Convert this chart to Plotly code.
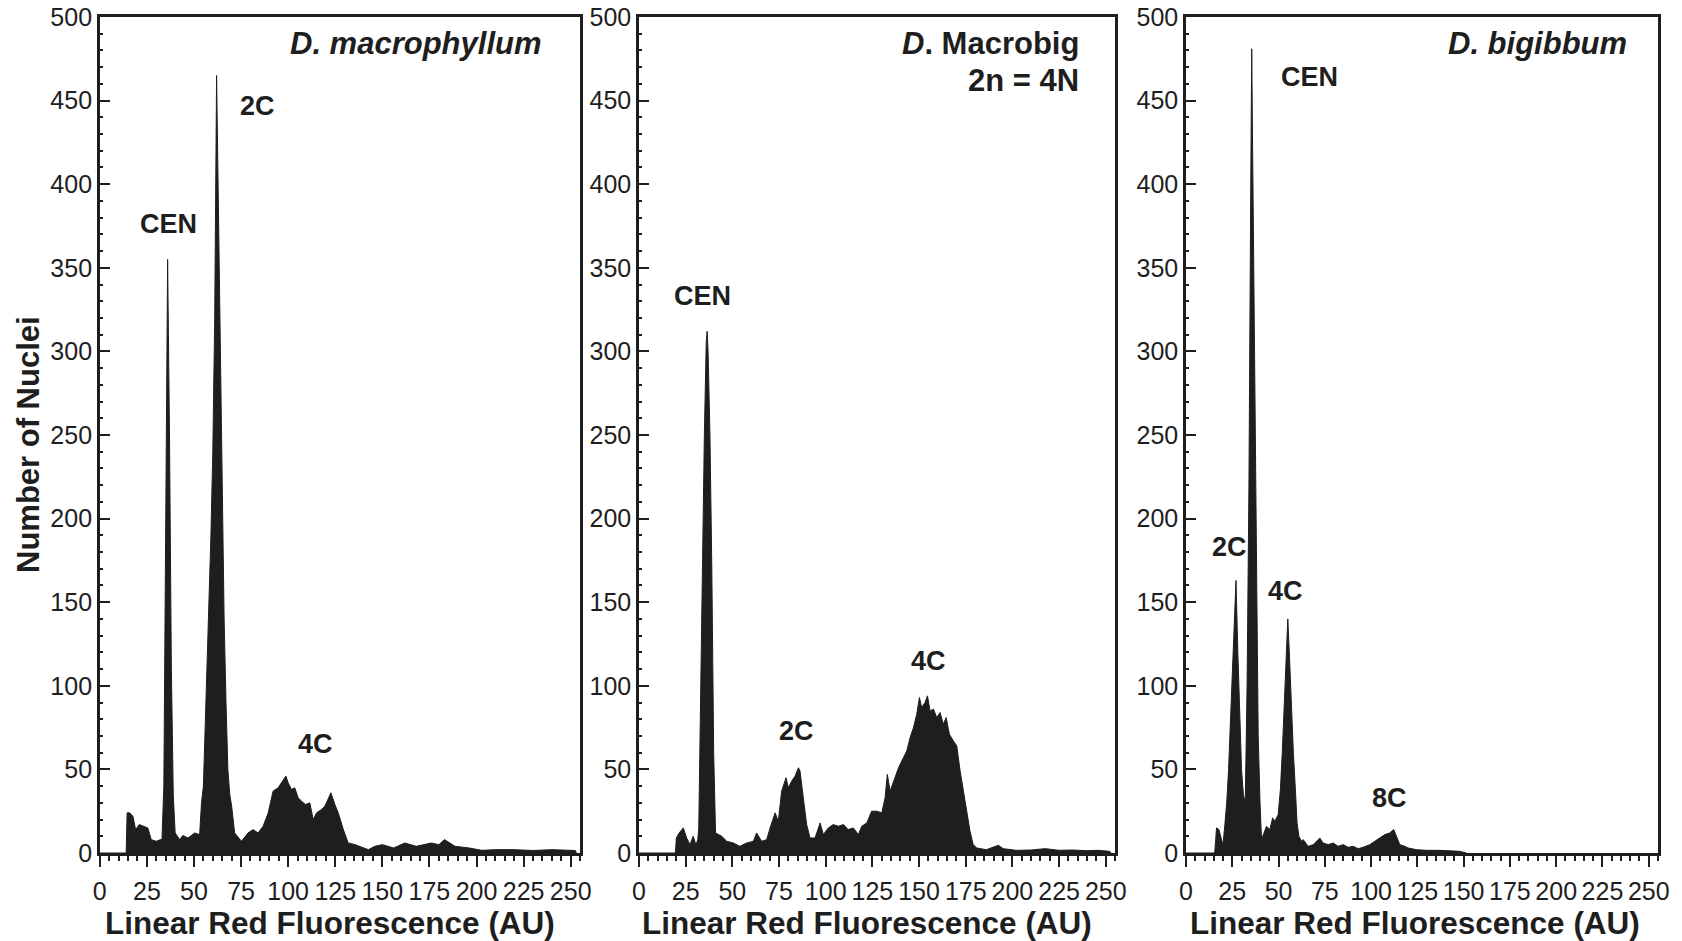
import plotly.graph_objects as go

# ---------------- data ----------------
# Panel 1: D. macrophyllum
mac_x = [0, 14, 14.5, 15.8, 17.6, 19, 21, 22.9, 25.5, 27.3, 30, 32.3, 33, 34, 35, 36, 37, 38, 39, 40,
         42.4, 44.1, 46.8, 50.4, 53, 54, 55, 57, 59, 60, 61, 62, 63, 64, 65, 66, 67, 68, 69, 70,
         71.6, 75.2, 78.7, 81.4, 84, 86.7, 89.4, 92, 94.7, 97.3, 98.8, 100, 101.8, 103.5, 105.3, 107.1,
         109.2, 111.5, 113.3, 115.1, 117.7, 119.5, 122.7, 124.8, 126.6, 129.3, 131.9, 135.5, 140, 142.6,
         146, 150, 156, 162, 168, 176, 180, 183, 188.6, 196, 202.8, 210, 220, 230, 240, 252.5, 253]
mac_y = [0, 0, 24, 24, 22, 14, 17, 16, 15, 8, 7, 8, 8, 40, 220, 355, 250, 110, 35, 12,
         8, 10.5, 9, 12, 11, 30, 40, 110, 190, 240, 320, 465, 380, 280, 200, 140, 90, 50, 35, 28,
         12, 7, 12, 14, 12, 16, 24, 37, 39, 44, 46, 42, 38, 39, 33, 31,
         29, 30, 20, 24, 26, 28, 36, 29, 24, 14, 6, 5, 3, 2,
         4, 5, 3, 6, 4, 6, 5, 8, 4, 3, 1.6, 2, 2, 1.5, 2, 1.5, 0]

# Panel 2: D. Macrobig 2n = 4N
mbg_x = [0, 19.5, 20, 21.5, 23.75, 25.5, 27.3, 29, 30.5, 31.5, 32, 33, 34, 35, 36, 36.5, 37, 38, 39, 40, 41,
         44.3, 47, 50.5, 54, 57.7, 61.25, 63, 65.7, 68.4, 70.2, 72.9, 74.6, 76.4, 78.75, 80, 81.8, 83.6,
         85.4, 86.25, 88, 89.8, 91.6, 94.3, 97, 98.75, 101.4, 104, 106.8, 109.5, 112, 114.8, 117.5, 119.3,
         122, 124.6, 127.3, 130, 131.8, 133, 134.5, 136.25, 139, 141.6, 143.4, 145.2, 147, 148.75, 150.2,
         151.4, 153.2, 154.5, 155.9, 157.7, 159.5, 161.25, 163, 164.5, 166.25, 168.4, 170.2, 172, 173.75,
         175.5, 177.3, 179, 180.9, 186, 192.5, 195, 202, 210, 217.5, 225, 232, 240, 246, 252, 253]
mbg_y = [0, 0, 9, 12, 15, 9, 5, 10, 5, 8, 15, 100, 180, 250, 305, 312, 300, 250, 170, 60, 12,
         10, 7, 6, 4, 6, 7, 12, 7, 8, 15, 24, 19, 37, 45, 39, 43, 46,
         51, 49, 33, 17, 9, 9, 18, 11, 15, 17, 16, 17, 14, 15, 11, 16,
         18, 25, 25, 24, 33, 47, 37, 43, 51, 57, 61, 69, 75, 83, 93,
         87, 90, 94, 85, 86, 81, 84, 77, 81, 71, 67, 64, 49, 37,
         25, 13, 5, 3, 2, 4.6, 2.6, 1.6, 1.8, 2.6, 1.6, 1.8, 1.4, 1.6, 1, 0]

# Panel 3: D. bigibbum
big_x = [0, 15.5, 16.5, 17.8, 19.2, 20, 21, 22, 23, 24, 25, 26, 27, 28, 29, 30, 31, 32, 33, 34, 35, 35.5,
         36, 37, 38, 39, 40, 40.8, 43.5, 45.3, 46.8, 48, 49.8, 51, 52, 53, 54, 55, 56, 57, 58, 59, 60, 61,
         62.4, 63.3, 66, 68.7, 72.3, 74, 76.8, 79.5, 82.2, 85, 87.6, 90.3, 93, 95.7, 99.3, 102, 104.7,
         107.4, 110, 112.2, 113.7, 115.5, 118.2, 120, 124.5, 129.9, 137, 144.2, 147.8, 151.4]
big_y = [0, 0, 15, 14, 8, 5, 17, 30, 50, 80, 110, 140, 163, 120, 80, 50, 35, 30, 100, 220, 400, 481,
         420, 290, 150, 70, 30, 8, 16, 14, 21, 19, 23, 38, 60, 88, 118, 140, 115, 85, 60, 40, 18, 10,
         7, 8, 4, 5, 9, 6, 5, 6, 4, 5, 3.4, 4, 2.6, 3.4, 5, 7, 9,
         11, 12, 14, 10, 5, 4, 3, 2, 1.6, 1.6, 1.4, 1, 0]

titles = ["<b><i>D. macrophyllum</i></b>", "<b><i>D</i>. Macrobig</b>", "<b><i>D. bigibbum</i></b>"]
peak_labels = [
    [("CEN", 36.4, 376), ("2C", 83.6, 447), ("4C", 114.4, 65)],
    [("CEN", 34.2, 333), ("2C", 84.2, 73), ("4C", 155.3, 115)],
    [("CEN", 66.6, 464), ("2C", 23.3, 183), ("4C", 54.0, 157), ("8C", 110.0, 33)],
]
x_title = "Linear Red Fluorescence (AU)"
y_title = "Number of Nuclei"

# ---------------- figure ----------------
W, H = 1682, 941
FONT = "Liberation Sans, Arial, Helvetica, sans-serif"
INK = "#1e1e1e"

x_dom_px = [(99.8, 580.1), (639.0, 1115.1), (1186.0, 1658.0)]
y_dom = [(941 - 853) / 941, (941 - 17) / 941]

fig = go.Figure()
series = [(mac_x, mac_y), (mbg_x, mbg_y), (big_x, big_y)]
for i, (xs, ys) in enumerate(series):
    sfx = "" if i == 0 else str(i + 1)
    fig.add_trace(go.Scatter(
        x=xs, y=ys, mode="lines", fill="tozeroy",
        line=dict(color=INK, width=1), fillcolor=INK,
        xaxis="x" + sfx, yaxis="y" + sfx, hoverinfo="skip", showlegend=False))

layout = dict(
    width=W, height=H, margin=dict(l=0, r=0, t=0, b=0, autoexpand=False),
    paper_bgcolor="white", plot_bgcolor="white", showlegend=False,
    font=dict(family=FONT, color=INK),
)
for i in range(3):
    sfx = "" if i == 0 else str(i + 1)
    d0, d1 = x_dom_px[i]
    layout["xaxis" + sfx] = dict(
        domain=[d0 / W, d1 / W], range=[0, 255], anchor="y" + sfx, automargin=False,
        tickmode="linear", tick0=0, dtick=25,
        ticks="outside", ticklen=11, tickwidth=2, tickcolor=INK,
        minor=dict(dtick=5, ticks="outside", ticklen=5, tickwidth=1.5, tickcolor=INK),
        showline=True, linewidth=2.5, linecolor=INK, mirror=True,
        showgrid=False, zeroline=False,
        tickfont=dict(size=25, family=FONT, color=INK), ticklabelstandoff=3,
    )
    layout["yaxis" + sfx] = dict(
        domain=y_dom, range=[0, 500], anchor="x" + sfx, automargin=False,
        tickmode="linear", tick0=0, dtick=50,
        ticks="inside", ticklen=10, tickwidth=2, tickcolor=INK,
        minor=dict(dtick=10, ticks="inside", ticklen=3, tickwidth=2, tickcolor=INK),
        showline=True, linewidth=2.5, linecolor=INK, mirror=True,
        showgrid=False, zeroline=False,
        tickfont=dict(size=25, family=FONT, color=INK),
    )
fig.update_layout(**layout)

ann = []
title_pos = [(236.0, 484), (236.8, 484), (239.2, 484)]
for i in range(3):
    sfx = "" if i == 0 else str(i + 1)
    tx, ty = title_pos[i]
    ann.append(dict(text=titles[i], x=tx, y=ty, xref="x" + sfx, yref="y" + sfx,
                    xanchor="right", yanchor="middle", showarrow=False,
                    font=dict(size=31, family=FONT, color=INK)))
    for (lab, lx, ly) in peak_labels[i]:
        ann.append(dict(text="<b>" + lab + "</b>", x=lx, y=ly, xref="x" + sfx, yref="y" + sfx,
                        xanchor="center", yanchor="middle", showarrow=False,
                        font=dict(size=27, family=FONT, color=INK)))
ann.append(dict(text="<b>2n = 4N</b>", x=236.8, y=462, xref="x2", yref="y2",
                xanchor="right", yanchor="middle", showarrow=False,
                font=dict(size=31, family=FONT, color=INK)))
for cx in (330, 867, 1415):
    ann.append(dict(text="<b>" + x_title + "</b>", x=cx / W, y=(941 - 922.5) / 941,
                    xref="paper", yref="paper", xanchor="center", yanchor="middle",
                    showarrow=False, font=dict(size=31.5, family=FONT, color=INK)))
ann.append(dict(text="<b>" + y_title + "</b>", x=28 / W, y=(941 - 445) / 941,
                xref="paper", yref="paper", xanchor="center", yanchor="middle",
                textangle=-90, showarrow=False, font=dict(size=31, family=FONT, color=INK)))
fig.update_layout(annotations=ann)

fig.write_html("out.html")
